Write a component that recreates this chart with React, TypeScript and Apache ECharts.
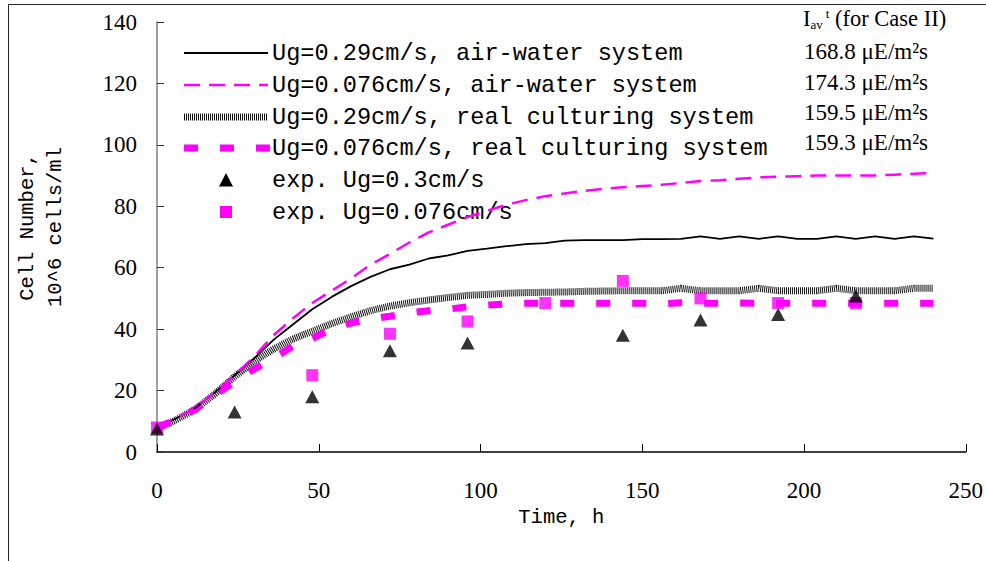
import React, { useEffect, useRef } from 'react';
import * as echarts from 'echarts';

const TIME = [0, 6, 12, 18, 24, 30, 36, 42, 48, 54, 60, 66, 72, 78, 84, 90, 96, 102, 108, 114, 120, 126, 132, 138, 144, 150, 156, 162, 168, 174, 180, 186, 192, 198, 204, 210, 216, 222, 228, 234, 240];

const AIR_029 = [8, 11, 14.5, 19.5, 25, 30.5, 36.5, 41.5, 46.5, 50.5, 54, 57, 59.5, 61, 63, 64, 65.5, 66.2, 67, 67.7, 68, 68.8, 69, 69, 69, 69.3, 69.3, 69.4, 70.2, 69.4, 70.2, 69.4, 70.2, 69.4, 69.4, 70.2, 69.4, 70.2, 69.4, 70.2, 69.5];

const AIR_0076 = [8, 11, 14.5, 19.5, 25, 31, 38, 43.5, 48.5, 52.5, 56.5, 61, 64.5, 68.2, 71.5, 74, 76.5, 78.5, 80.5, 82, 83.3, 84.2, 85, 85.7, 86.2, 86.6, 87, 87.6, 88.2, 88.5, 89, 89.4, 89.6, 89.8, 90, 90, 90, 90, 90.3, 90.6, 90.8];

const REAL_029 = [7.5, 10.5, 14, 19, 24.5, 29.5, 33.5, 36.8, 39.3, 41.8, 44, 46, 47.5, 48.6, 49.5, 50.3, 51, 51.3, 51.7, 51.9, 52, 52.1, 52.3, 52.4, 52.5, 52.5, 52.5, 53.3, 52.5, 52.5, 52.5, 53.3, 52.5, 52.5, 52.5, 53.3, 52.5, 52.5, 52.5, 53.3, 53.3];

const REAL_0076 = [8, 10.5, 14, 18.5, 23, 27, 30.5, 34.5, 37, 40, 42, 43.3, 44.2, 45.3, 46, 46.5, 47.3, 47.8, 48.2, 48.4, 48.4, 48.4, 48.5, 48.4, 48.4, 48.4, 48.2, 48.6, 48.4, 48.4, 48.5, 48.4, 48.4, 48.4, 48.4, 48.5, 48.4, 48.4, 48.4, 48.4, 48.4];

const EXP_03_T = [0, 24, 48, 72, 96, 144, 168, 192, 216];
const EXP_03_V = [7.5, 13, 18, 33, 35.5, 38, 43, 44.8, 50.8];

const EXP_0076_T = [0, 48, 72, 96, 120, 144, 168, 192, 216];
const EXP_0076_V = [8, 25, 38.5, 42.5, 48.5, 55.7, 50, 48.5, 48.5];

const LEGEND_LABELS = [
  'Ug=0.29cm/s, air-water system',
  'Ug=0.076cm/s, air-water system',
  'Ug=0.29cm/s, real culturing system',
  'Ug=0.076cm/s, real culturing system',
  'exp. Ug=0.3cm/s',
  'exp. Ug=0.076cm/s',
];

const IAV_VALUES = ['168.8 μE/m²s', '174.3 μE/m²s', '159.5 μE/m²s', '159.3 μE/m²s'];

const X_NAME = 'Time, h';
const Y_NAME = 'Cell Number,\n10^6 cells/ml';

const MAGENTA = '#ff00ff';
const MONO = '"Liberation Mono", monospace';
const SERIF = '"Liberation Serif", serif';

const pair = (xs: number[], ys: number[]) => xs.map((x, i) => [x, ys[i]]);

export default function App() {
  const ref = useRef<HTMLDivElement>(null);

  useEffect(() => {
    if (!ref.current) return;
    const chart = echarts.init(ref.current, null, { renderer: 'svg' });

    const rowY = [53, 85, 117, 148, 180, 212];
    const lx1 = 184;
    const lx2 = 268;
    const tx = 272;

    const legendGraphics: any[] = [
      { type: 'line', shape: { x1: lx1, y1: rowY[0], x2: lx2, y2: rowY[0] }, style: { stroke: '#000', lineWidth: 1.8 } },
      { type: 'line', shape: { x1: lx1, y1: rowY[1], x2: lx2, y2: rowY[1] }, style: { stroke: MAGENTA, lineWidth: 2.5, lineDash: [16, 9] } },
      { type: 'line', shape: { x1: lx1, y1: rowY[2], x2: lx2, y2: rowY[2] }, style: { stroke: '#fff', lineWidth: 7 } },
      { type: 'line', shape: { x1: lx1, y1: rowY[2], x2: lx2, y2: rowY[2] }, style: { stroke: '#111', lineWidth: 7, lineDash: [1, 1] } },
      { type: 'line', shape: { x1: lx1, y1: rowY[3], x2: lx2 + 12, y2: rowY[3] }, style: { stroke: MAGENTA, lineWidth: 7, lineDash: [14, 22] } },
      { type: 'polygon', shape: { points: [[226, rowY[4] - 7], [219, rowY[4] + 6.5], [233, rowY[4] + 6.5]] }, style: { fill: '#000' } },
      { type: 'rect', shape: { x: 220, y: rowY[5] - 6, width: 12, height: 12 }, style: { fill: MAGENTA } },
      ...LEGEND_LABELS.map((t, i) => ({
        type: 'text',
        x: tx,
        y: rowY[i],
        style: { text: t, fontFamily: MONO, fontSize: 23.6, fill: '#000', verticalAlign: 'middle', align: 'left' },
      })),
    ];

    const iavGraphics: any[] = [
      {
        type: 'text',
        x: 803,
        y: 18,
        style: {
          text: '{a|I}{b|av}{c|t}{a| (for Case II)}',
          verticalAlign: 'middle',
          rich: {
            a: { fontFamily: SERIF, fontSize: 22.5, fill: '#000' },
            b: { fontFamily: SERIF, fontSize: 13, fill: '#000', padding: [13, 0, 0, 0] },
            c: { fontFamily: SERIF, fontSize: 13, fill: '#000', padding: [0, 0, 9, 3] },
          },
        },
      },
      ...IAV_VALUES.map((t, i) => ({
        type: 'text',
        x: 804,
        y: [51, 82, 112, 142][i],
        style: { text: t, fontFamily: SERIF, fontSize: 23, fill: '#000', verticalAlign: 'middle', align: 'left' },
      })),
    ];

    const option: any = {
      animation: false,
      backgroundColor: '#fff',
      grid: { left: 157, right: 15, top: 22, bottom: 109, containLabel: false },
      xAxis: {
        type: 'value',
        min: 0,
        max: 250,
        interval: 50,
        name: X_NAME,
        nameLocation: 'middle',
        nameGap: 42,
        nameTextStyle: { fontFamily: MONO, fontSize: 20.5, color: '#000' },
        axisLine: { onZero: false, lineStyle: { color: '#000', width: 1.5 } },
        axisTick: { inside: true, length: 8, lineStyle: { color: '#000' } },
        axisLabel: { fontFamily: SERIF, fontSize: 23, color: '#000', margin: 27 },
        splitLine: { show: false },
      },
      yAxis: {
        type: 'value',
        min: 0,
        max: 140,
        interval: 20,
        axisLine: { show: true, lineStyle: { color: '#808080', width: 1.5 } },
        axisTick: { show: true, inside: true, length: 7, lineStyle: { color: '#333' } },
        axisLabel: { fontFamily: SERIF, fontSize: 23, color: '#000', margin: 20 },
        splitLine: { show: false },
      },
      graphic: [
        { type: 'rect', shape: { x: 8.5, y: 4.5, width: 1100, height: 700 }, style: { fill: 'none', stroke: '#222', lineWidth: 1 }, silent: true },
        {
          type: 'text',
          x: 41,
          y: 227,
          rotation: Math.PI / 2,
          style: { text: Y_NAME, fontFamily: MONO, fontSize: 20.5, lineHeight: 28, fill: '#000', align: 'center', verticalAlign: 'middle' },
        },
        ...legendGraphics,
        ...iavGraphics,
      ],
      series: [
        {
          type: 'line',
          name: LEGEND_LABELS[2] + ' base',
          data: pair(TIME, REAL_029),
          showSymbol: false,
          lineStyle: { color: '#fff', width: 7 },
          z: 2,
        },
        {
          type: 'line',
          name: LEGEND_LABELS[2],
          data: pair(TIME, REAL_029),
          showSymbol: false,
          lineStyle: { color: '#111', width: 7, type: [1, 1] },
          z: 2,
        },
        {
          type: 'line',
          name: LEGEND_LABELS[3],
          data: pair(TIME, REAL_0076),
          showSymbol: false,
          lineStyle: { color: MAGENTA, width: 7, type: [14, 22], cap: 'butt' },
          z: 3,
        },
        {
          type: 'line',
          name: LEGEND_LABELS[0],
          data: pair(TIME, AIR_029),
          showSymbol: false,
          lineStyle: { color: '#000', width: 1.8 },
          z: 4,
        },
        {
          type: 'line',
          name: LEGEND_LABELS[1],
          data: pair(TIME, AIR_0076),
          showSymbol: false,
          lineStyle: { color: MAGENTA, width: 2.5, type: [16, 9] },
          z: 4,
        },
        {
          type: 'scatter',
          name: LEGEND_LABELS[5],
          data: pair(EXP_0076_T, EXP_0076_V),
          symbol: 'rect',
          symbolSize: 12,
          itemStyle: { color: MAGENTA },
          z: 5,
        },
        {
          type: 'scatter',
          name: LEGEND_LABELS[4],
          data: pair(EXP_03_T, EXP_03_V),
          symbol: 'triangle',
          symbolSize: [14, 13],
          itemStyle: { color: '#000' },
          z: 6,
        },
      ],
    };

    chart.setOption(option);
    return () => chart.dispose();
  }, []);

  return <div ref={ref} style={{ position: 'absolute', left: 0, top: 0, width: 986, height: 561 }} />;
}
